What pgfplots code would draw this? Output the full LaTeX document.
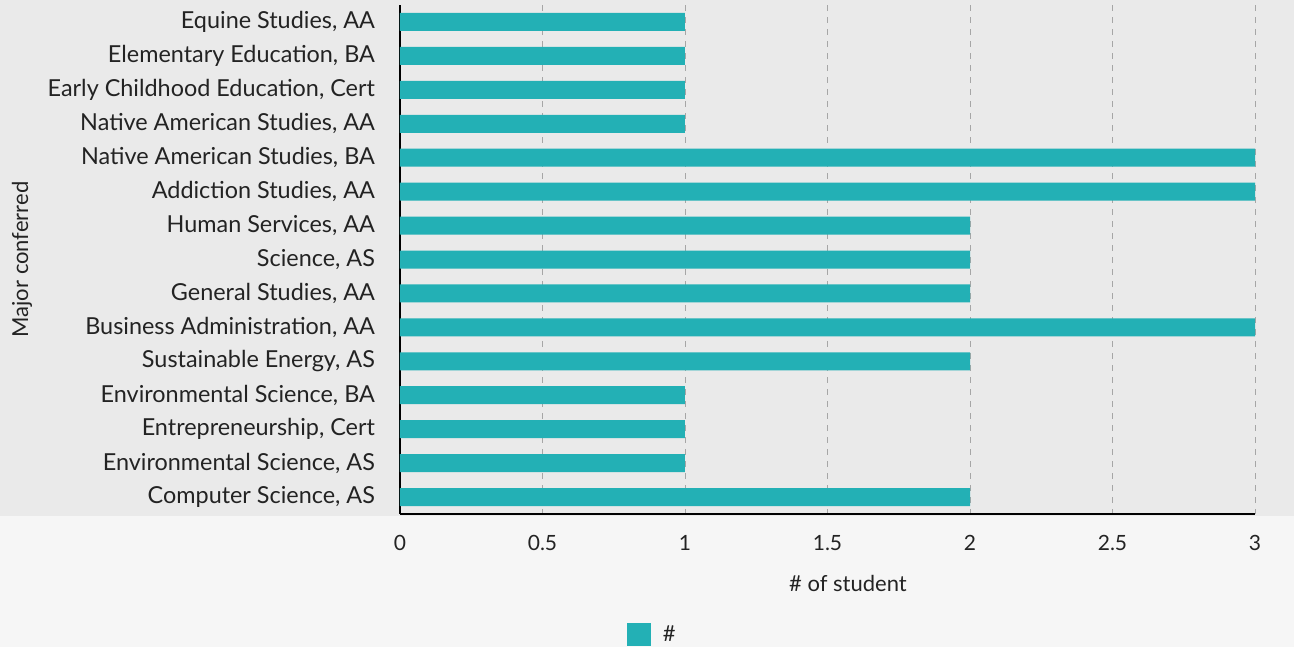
\documentclass[border=0pt]{standalone}
\usepackage{pgfplots}
\pgfplotsset{compat=1.18}
\usepackage{fontspec}
\setmainfont{Lato}
\definecolor{barTeal}{RGB}{35,176,181}
\definecolor{txt}{RGB}{35,35,35}
\definecolor{scanGray}{RGB}{234,234,234}
\definecolor{scanLight}{RGB}{246,246,246}

\begin{document}
\begin{tikzpicture}
\useasboundingbox (-200pt,-66.5pt) rectangle (447pt,257pt);
\fill[scanLight] (-200pt,-66.5pt) rectangle (447pt,257pt);
\fill[scanGray] (-200pt,-1pt) rectangle (447pt,257pt);
\begin{axis}[
    at={(0,0)}, anchor=south west,
    width=427.5pt, height=254.5pt,
    scale only axis,
    xbar, bar width=9pt,
    y dir=reverse,
    xmin=0, xmax=3, ymin=-0.5, ymax=14.5,
    xtick={0,0.5,...,3},
    ytick={0,...,14},
    yticklabels={{Equine Studies, AA}, {Elementary Education, BA},
      {Early Childhood Education, Cert}, {Native American Studies, AA},
      {Native American Studies, BA}, {Addiction Studies, AA},
      {Human Services, AA}, {Science, AS}, {General Studies, AA},
      {Business Administration, AA}, {Sustainable Energy, AS},
      {Environmental Science, BA}, {Entrepreneurship, Cert},
      {Environmental Science, AS}, {Computer Science, AS}},
    axis x line*=bottom, axis y line*=left,
    axis line style={-, black, line width=0.7pt},
    major tick length=0pt,
    xmajorgrids,
    grid style={dashed, gray!70, line width=0.4pt},
    /pgf/number format/assume math mode=true,
    xticklabel style={yshift=-7pt, font=\fontsize{10.5}{12}\selectfont, text=txt},
    yticklabel style={xshift=-9pt, font=\fontsize{11.7}{13}\selectfont, text=txt},
    xlabel={\# of student},
    xlabel style={at={(axis description cs:0.524,0)}, anchor=center, yshift=-34.5pt,
      font=\fontsize{11}{12}\selectfont, text=txt},
    ylabel={Major conferred},
    ylabel style={at={(axis description cs:-0.442,0.5)}, anchor=center,
      font=\fontsize{11}{12}\selectfont, text=txt},
    legend style={at={(0.301,-0.238)}, anchor=center, draw=none, fill=none,
      font=\fontsize{11}{12}\selectfont, text=txt,
      nodes={inner xsep=6pt}},
    legend image code/.code={\fill[barTeal] (0pt,-5.5pt) rectangle (12pt,6pt);},
]
\addplot[fill=barTeal, draw=none] coordinates {
  (1,0) (1,1) (1,2) (1,3) (3,4) (3,5) (2,6) (2,7) (2,8) (3,9)
  (2,10) (1,11) (1,12) (1,13) (2,14)
};
\addlegendentry{\#}
\end{axis}
\end{tikzpicture}
\end{document}
